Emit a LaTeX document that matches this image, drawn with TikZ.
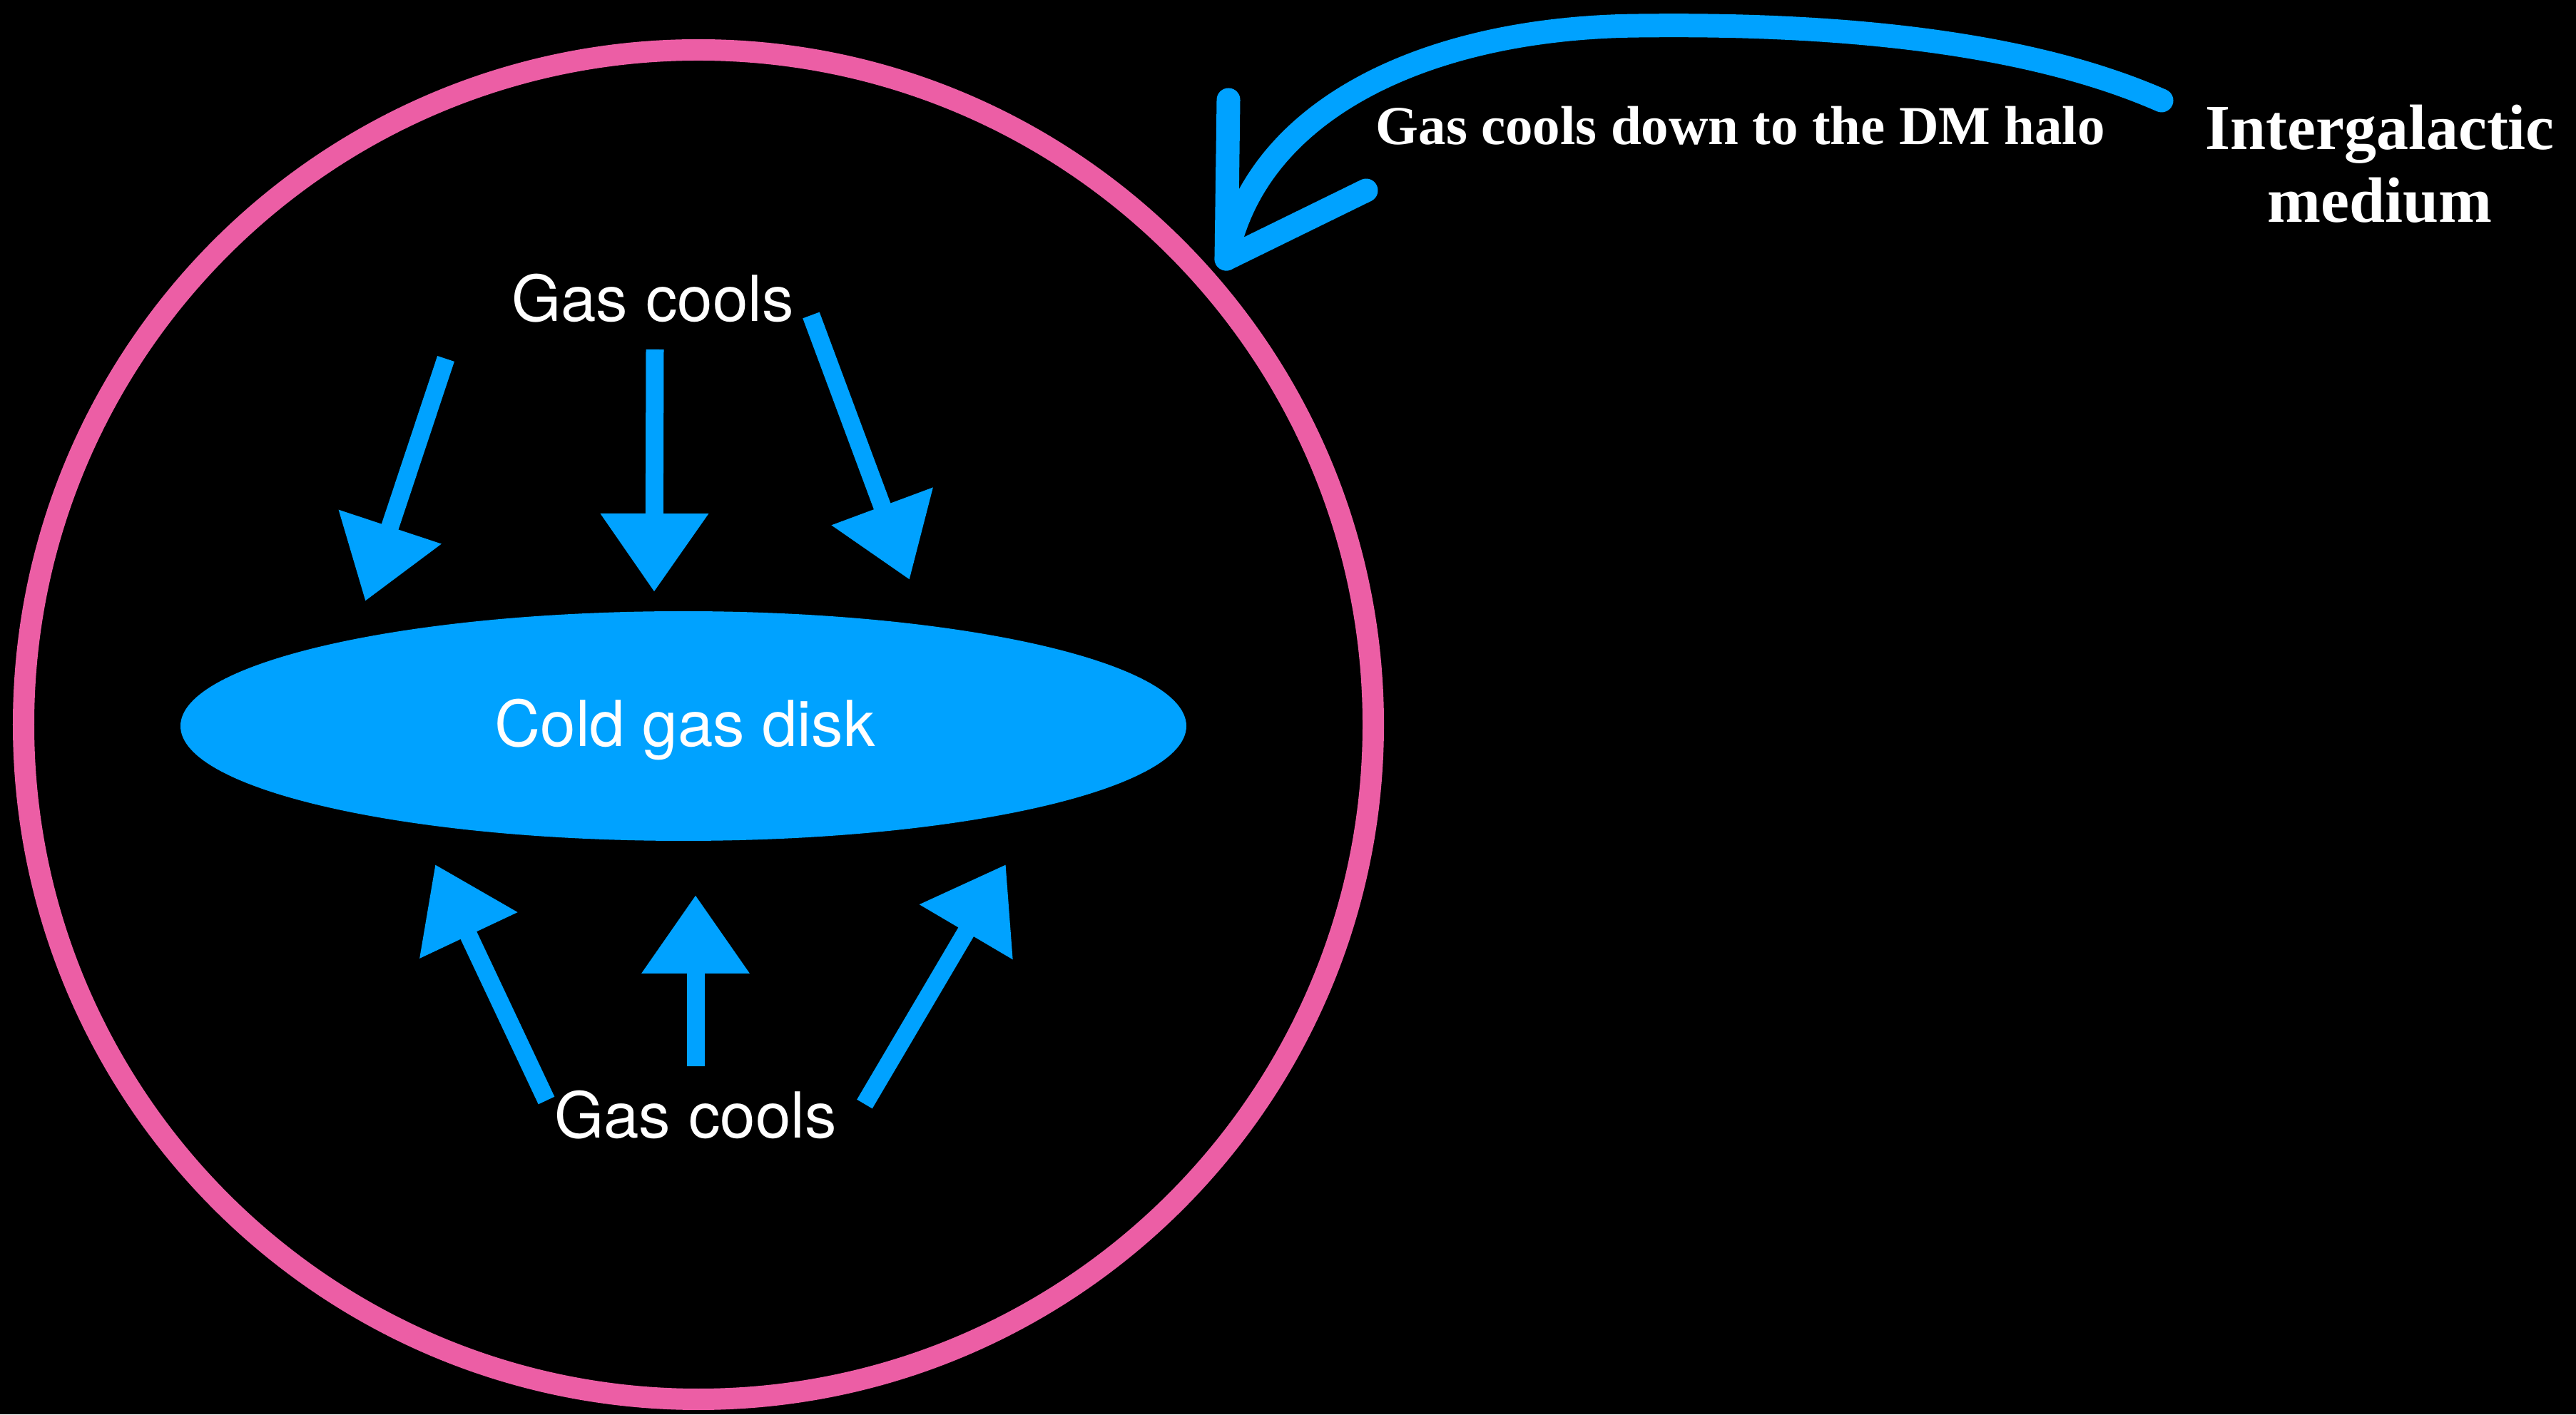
\documentclass[tikz,border=0pt]{standalone}
\usepackage{fontspec}
\usepackage{tikz}
\usetikzlibrary{arrows.meta,shapes.geometric}
\setmainfont{TeX Gyre Heros}
\newfontfamily\igmfont{Liberation Serif}
\definecolor{diskblue}{RGB}{0,162,255}
\definecolor{halopink}{RGB}{236,94,165}

\tikzset{
  inflow/.style={draw=diskblue, line width=0.25cm, -{Triangle[length=1.1cm,width=1.45cm]}},
  accretion/.style={draw=diskblue, line width=0.33cm, line cap=round, line join=round},
  lbl/.style={text=white, inner sep=0pt, font=\fontsize{25.3}{30}\selectfont},
}

\begin{document}
\begin{tikzpicture}
\fill[black] (0,0) rectangle (36.11,19.83);
\useasboundingbox (0,0) rectangle (36.11,19.83);

% DM halo
\draw[halopink, line width=0.30cm] (9.79,9.67) circle (9.46);

% cold gas disk
\node[ellipse, fill=diskblue, minimum width=14.1cm, minimum height=3.22cm, inner sep=0pt] (disk) at (9.58,9.65) {};
\node[lbl, anchor=base] (disklbl) at (9.60,9.36) {Cold gas disk};

% cooling from above
\node[lbl, anchor=base] (coolstop) at (9.15,15.32) {Gas cools};
\coordinate (t1) at (6.25,14.80); \coordinate (h1) at (5.12,11.40);
\coordinate (t2) at (9.18,14.93); \coordinate (h2) at (9.17,11.53);
\coordinate (t3) at (11.37,15.41); \coordinate (h3) at (12.75,11.70);
\draw[inflow] (t1) -- (h1);
\draw[inflow] (t2) -- (h2);
\draw[inflow] (t3) -- (h3);

% cooling from below
\node[lbl, anchor=base] (coolsbot) at (9.75,3.87) {Gas cools};
\coordinate (t4) at (7.66,4.40); \coordinate (h4) at (6.10,7.71);
\coordinate (t5) at (9.75,4.88); \coordinate (h5) at (9.75,7.28);
\coordinate (t6) at (12.12,4.35); \coordinate (h6) at (14.10,7.71);
\draw[inflow] (t4) -- (h4);
\draw[inflow] (t5) -- (h5);
\draw[inflow] (t6) -- (h6);

% IGM -> halo
\node[text=white, inner sep=0pt, align=center, font=\igmfont\bfseries\fontsize{25.6}{29}\selectfont] (igm) at (33.36,17.53) {Intergalactic\\medium};
\node[text=white, inner sep=0pt, anchor=base west, font=\igmfont\bfseries\fontsize{21.9}{26}\selectfont] (halolbl) at (19.28,17.80) {Gas cools down to the DM halo};
\coordinate (igmend) at (30.30,18.42);
\coordinate (tip) at (17.19,16.20);
\coordinate (wingl) at (17.22,18.43);
\coordinate (wingr) at (19.15,17.16);
\draw[accretion] (igmend) .. controls (28.3,19.3) and (25.5,19.5) .. (23.0,19.47) .. controls (20.0,19.45) and (17.6,18.3) .. (tip);
\draw[accretion] (wingl) -- (tip) -- (wingr);
\end{tikzpicture}
\end{document}
